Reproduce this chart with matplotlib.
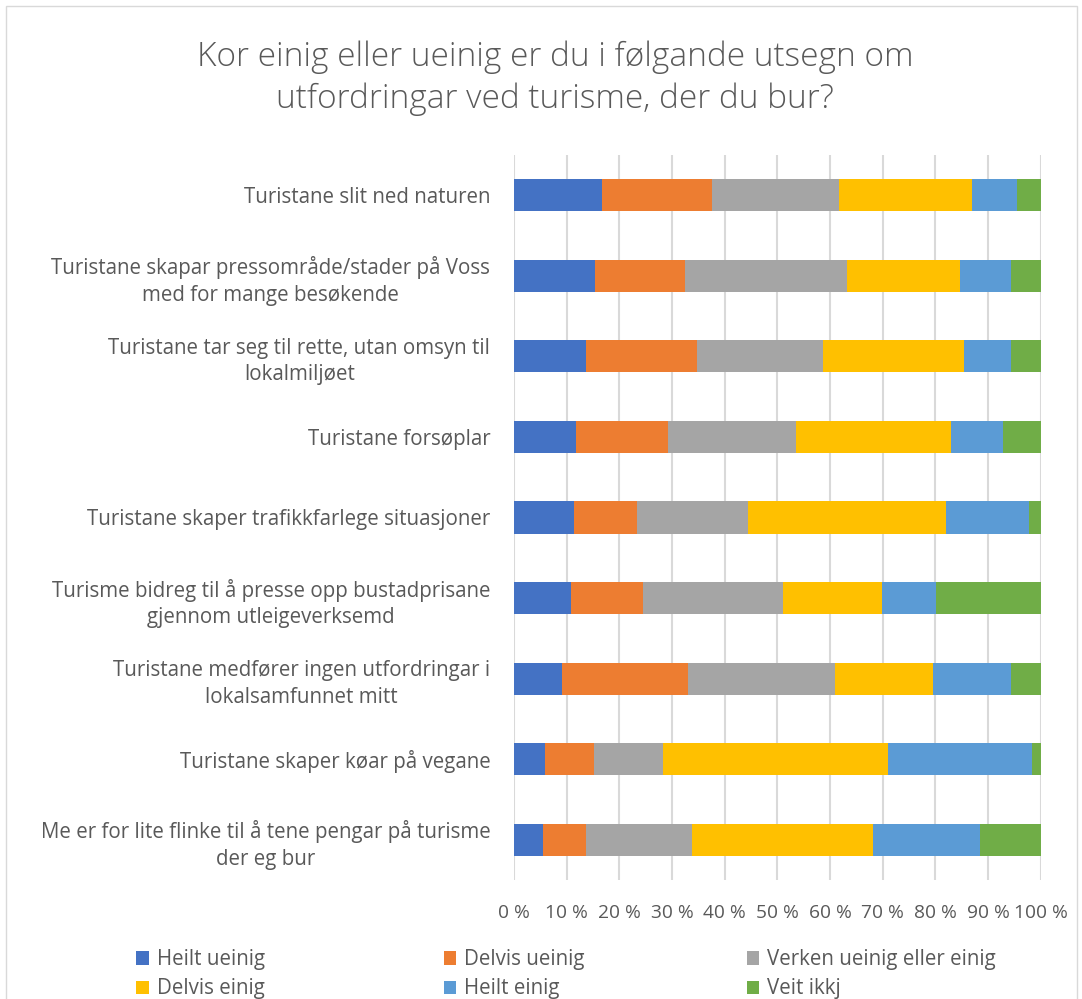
import matplotlib
matplotlib.use("Agg")
import matplotlib.pyplot as plt
from matplotlib.patches import Rectangle, Patch
import numpy as np

plt.rcParams['font.family'] = ['Open Sans', 'DejaVu Sans']

categories = [
    "Turistane slit ned naturen",
    "Turistane skapar pressområde/stader på Voss\nmed for mange besøkende",
    "Turistane tar seg til rette, utan omsyn til\nlokalmiljøet",
    "Turistane forsøplar",
    "Turistane skaper trafikkfarlege situasjoner",
    "Turisme bidreg til å presse opp bustadprisane\ngjennom utleigeverksemd",
    "Turistane medfører ingen utfordringar i\nlokalsamfunnet mitt",
    "Turistane skaper køar på vegane",
    "Me er for lite flinke til å tene pengar på turisme\nder eg bur",
]

series_names = ["Heilt ueinig", "Delvis ueinig", "Verken ueinig eller einig",
                "Delvis einig", "Heilt einig", "Veit ikkj"]

heilt_ueinig  = [16.8, 15.4, 13.6, 11.7, 11.4, 10.9, 9.2, 5.8, 5.6]
delvis_ueinig = [20.7, 17.1, 21.2, 17.6, 12.0, 13.6, 23.9, 9.4, 8.0]
verken        = [24.2, 30.7, 23.8, 24.3, 21.0, 26.5, 27.9, 13.1, 20.2]
delvis_einig  = [25.2, 21.4, 26.8, 29.3, 37.6, 18.9, 18.5, 42.6, 34.3]
heilt_einig   = [8.6, 9.8, 9.0, 9.9, 15.8, 10.2, 14.9, 27.5, 20.4]
veit_ikkj     = [4.5, 5.6, 5.6, 7.2, 2.2, 19.9, 5.6, 1.6, 11.5]

colors = ["#4472C4", "#ED7D31", "#A5A5A5", "#FFC000", "#5B9BD5", "#70AD47"]
text_color = "#595959"

series = [heilt_ueinig, delvis_ueinig, verken, delvis_einig, heilt_einig, veit_ikkj]

fig = plt.figure(figsize=(10.82, 9.99), dpi=100)
ax = fig.add_axes([0.475, 0.119, 0.487, 0.726])

n = len(categories)
y = np.arange(n)
left = np.zeros(n)
handles = []
for vals, name, c in zip(series, series_names, colors):
    vals = np.array(vals)
    ax.barh(y, vals, left=left, height=0.4, color=c, label=name, zorder=3)
    left += vals
    handles.append(Patch(facecolor=c, label=name))

ax.set_ylim(n - 0.5, -0.5)
ax.set_xlim(0, 100)
ax.set_xticks(np.arange(0, 101, 10))
ax.set_xticklabels([f"{v} %" for v in range(0, 101, 10)], fontsize=13.8, color=text_color)
ax.set_yticks(y)
ax.set_yticklabels(categories, fontsize=14.8, color=text_color, multialignment='center',
                   linespacing=1.35)
ax.tick_params(axis='both', length=0)
ax.tick_params(axis='y', pad=17)
ax.tick_params(axis='x', pad=17)
ax.grid(axis='x', color='#D9D9D9', linewidth=1.5, zorder=0)
for s in ax.spines.values():
    s.set_visible(False)

fig.text(0.513, 0.922, "Kor einig eller ueinig er du i følgande utsegn om\nutfordringar ved turisme, der du bur?",
         ha='center', va='center', fontsize=24, color=text_color, linespacing=1.33, fontweight='light')

# legend: three fixed-width columns, two rows
col_x = [0.109, 0.393, 0.673]
cols = [[0, 3], [1, 4], [2, 5]]
for cx, idxs in zip(col_x, cols):
    leg = fig.legend([handles[i] for i in idxs], [series_names[i] for i in idxs],
                     loc='lower left', bbox_to_anchor=(cx, -0.019), ncol=1, frameon=False,
                     fontsize=14.8, handlelength=0.6, handleheight=0.6, handletextpad=0.4,
                     labelspacing=0.4, borderpad=0.4)
    for t in leg.get_texts():
        t.set_color(text_color)

fig.patches.append(Rectangle((0.006, -0.1), 0.989, 1.094, transform=fig.transFigure,
                             fill=False, edgecolor='#D9D9D9', linewidth=1))

fig.savefig("out.png", dpi=100, facecolor='white')
